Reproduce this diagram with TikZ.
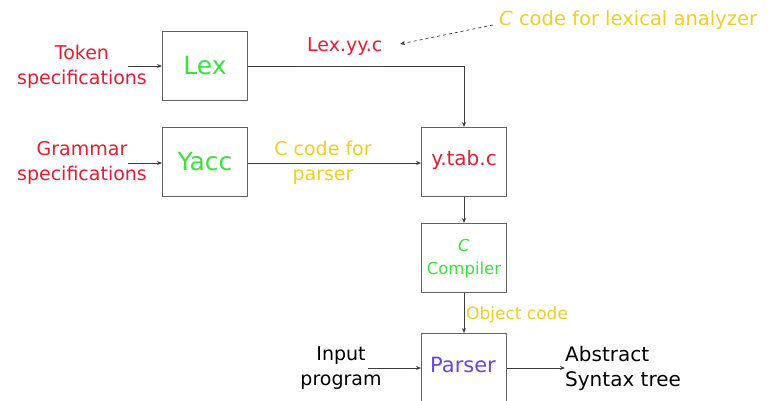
\documentclass[tikz,border=0pt]{standalone}
\usepackage{fontspec}
\setmainfont{DejaVu Sans}
\usetikzlibrary{arrows.meta}
\definecolor{lred}{RGB}{226,30,52}
\definecolor{lgreen}{RGB}{60,225,60}
\definecolor{lyellow}{RGB}{238,206,40}
\definecolor{lblue}{RGB}{100,70,230}
\definecolor{edge}{RGB}{60,60,60}
\begin{document}
\begin{tikzpicture}[x=1pt,y=-1pt,
  stage/.style={draw=edge!80,line width=1pt,fill=white,minimum width=85pt,minimum height=69pt,inner sep=0pt,anchor=north west},
  lbl/.style={font=\fontsize{19}{25}\selectfont,align=center,inner sep=0pt},
  flow/.style={draw=edge,line width=0.8pt,-{Stealth[length=5pt,width=4pt]}}]
\clip (0,0) rectangle (769,400);
\fill[white] (0,0) rectangle (769,400);
% processing stages
\node[stage] (lex) at (162,31) {};
\node[font=\fontsize{25}{28}\selectfont,text=lgreen] at (lex.center) {Lex};
\node[stage] (yacc) at (162,127) {};
\node[font=\fontsize{25}{28}\selectfont,text=lgreen] at (yacc.center) {Yacc};
\node[stage] (ytab) at (421,127) {};
\node[font=\fontsize{20}{24}\selectfont,text=lred] at ([yshift=2]ytab.center) {y.tab.c};
\node[stage] (cc) at (421,223) {};
\node[font=\fontsize{16.5}{23}\selectfont,text=lgreen,align=center] at ([yshift=-1]cc.center) {\itshape C\\Compiler};
\node[stage,minimum height=100pt] (parser) at (421,333) {};
\node[font=\fontsize{21}{24}\selectfont,text=lblue] at (463,365) {Parser};
% inputs and outputs
\node[lbl,text=lred] (tok) at (82,67) {Token\\specifications};
\node[lbl,text=lred] (gram) at (82,163) {Grammar\\specifications};
\node[lbl,text=black] (input) at (341,368) {Input\\program};
\node[lbl,font=\fontsize{20}{25}\selectfont,text=black,align=left,anchor=west] (ast) at (565,368) {Abstract\\Syntax tree};
\node[lbl,text=lred,anchor=west] (lexyy) at (307,47) {Lex.yy.c};
\node[lbl,text=lyellow] (cparser) at (323,163) {C code for\\parser};
\node[lbl,font=\fontsize{19.5}{25}\selectfont,text=lyellow,anchor=west] (clex) at (499,20) {\itshape C\upshape{} code for lexical analyzer};
\node[lbl,font=\fontsize{17}{20}\selectfont,text=lyellow,anchor=west] (obj) at (466,315) {Object code};
% connectors
\coordinate (tokend) at (128,66);
\coordinate (gramend) at (128,163);
\coordinate (inend) at (368,368);
\draw[flow] (tokend) -- (tokend -| lex.west);
\draw[flow] (gramend) -- (gramend -| yacc.west);
\draw[flow] (lex.east) -- (ytab.north |- lex.east) -- (ytab.north);
\draw[flow] (yacc.east |- gramend) -- (ytab.west |- gramend);
\draw[flow] (ytab.south) -- (cc.north);
\draw[flow] (cc.south) -- (parser.north);
\draw[flow] (inend) -- (parser.west |- inend);
\draw[flow] (parser.east |- inend) -- (ast.west);
\draw[draw=edge,line width=0.7pt,dashed,-{Stealth[length=5pt,width=4pt]}] (clex.west) ++(-6,5) -- (400,44);
\end{tikzpicture}
\end{document}
